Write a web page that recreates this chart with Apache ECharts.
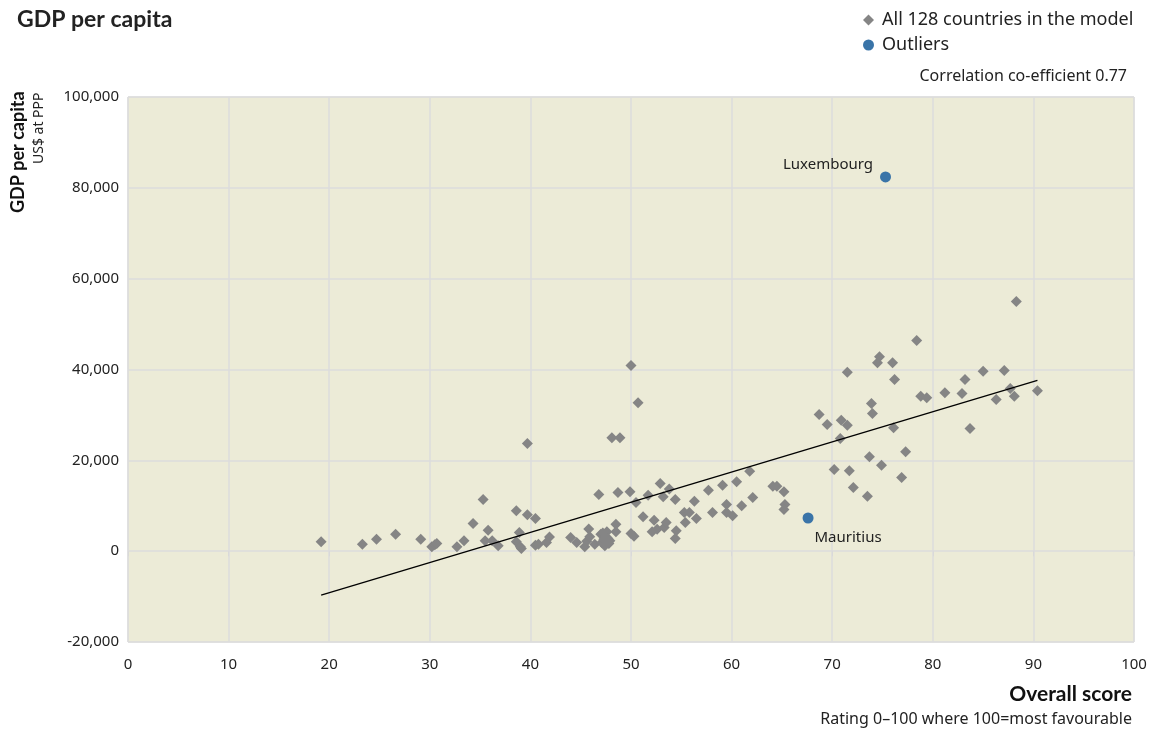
<!DOCTYPE html>
<html>
<head>
<meta charset="utf-8">
<title>GDP per capita</title>
<script src="https://cdn.jsdelivr.net/npm/echarts@6/dist/echarts.min.js"></script>
<style>
  html, body { margin: 0; padding: 0; background: #fff; }
  #main { width: 1166px; height: 734px; }
</style>
</head>
<body>
<div id="main"></div>
<script>
// overall score (x) and GDP per capita, US$ at PPP (y)
const countries = [
  [19.2, 2100], [23.3, 1500], [24.7, 2600], [26.6, 3700], [29.1, 2600],
  [30.2, 1000], [30.5, 1400], [30.7, 1700], [32.7, 1000], [33.4, 2300],
  [34.3, 6100], [35.3, 11400], [35.5, 2300], [35.8, 4600], [36.2, 2300],
  [36.8, 1200], [38.6, 8900], [38.6, 2100], [38.9, 4100], [39.0, 1000],
  [39.1, 600], [39.7, 8000], [39.7, 23700], [40.5, 7200], [40.5, 1300],
  [40.8, 1500], [41.6, 1900], [41.9, 3100], [44.0, 3000], [44.6, 1900],
  [45.4, 1000], [45.6, 2200], [45.8, 4900], [45.9, 3200], [46.4, 1500],
  [46.8, 12500], [47.0, 3700], [47.1, 1900], [47.2, 4000], [47.3, 2600],
  [47.4, 1200], [47.5, 3200], [47.6, 4300], [47.7, 2800], [47.8, 1700],
  [47.9, 2300], [48.1, 25000], [48.5, 5900], [48.5, 4300], [48.7, 12900],
  [48.9, 25000], [49.9, 13100], [50.0, 40900], [50.0, 3900], [50.3, 3300],
  [50.5, 10700], [50.7, 32700], [51.2, 7600], [51.7, 12300], [52.1, 4300],
  [52.3, 6800], [52.6, 4800], [52.9, 14900], [53.2, 12000], [53.3, 5200],
  [53.5, 6300], [53.8, 13700], [54.4, 11400], [54.4, 2800], [54.5, 4500],
  [55.3, 8500], [55.4, 6300], [55.8, 8500], [56.3, 11000], [56.5, 7200],
  [57.7, 13400], [58.1, 8500], [59.1, 14500], [59.5, 10300], [59.5, 8500],
  [60.1, 7800], [60.5, 15300], [61.0, 10000], [61.8, 17600], [62.1, 11800],
  [64.1, 14300], [64.5, 14300], [65.2, 13100], [65.3, 10300], [65.2, 9200],
  [68.7, 30100], [69.5, 27900], [70.2, 18000], [70.8, 24800], [70.9, 28800],
  [71.5, 27700], [71.5, 39400], [71.7, 17700], [72.1, 14000], [73.5, 12100],
  [73.7, 20800], [73.9, 32500], [74.0, 30300], [74.5, 41500], [74.7, 42800],
  [74.9, 18900], [76.0, 41500], [76.1, 27200], [76.2, 37800], [76.9, 16200],
  [77.3, 21900], [78.4, 46400], [78.8, 34100], [79.4, 33800], [81.2, 34900],
  [82.9, 34700], [83.2, 37800], [83.7, 27000], [85.0, 39600], [86.3, 33400],
  [87.1, 39800], [87.7, 35800], [88.1, 34100], [88.3, 55000], [90.4, 35300]
];

const outlierNames = ['Luxembourg', 'Mauritius'];
const outlierValues = [[75.3, 82400], [67.6, 7300]];

// ends of the fitted line
const trendLine = [[19.2, -9700], [90.4, 37600]];

const xTicks = {min: 0, max: 100, interval: 10};
const yTicks = {min: -20000, max: 100000, interval: 20000};

const FONT = 'Noto Sans';
const GREY = '#858585';
const BLUE = '#3a74a8';

const chart = echarts.init(document.getElementById('main'), null, {renderer: 'canvas'});

chart.setOption({
  animation: false,
  textStyle: {fontFamily: FONT, color: '#222'},
  title: {
    text: 'GDP per capita',
    left: 12,
    top: 3,
    textStyle: {fontFamily: 'Lato', fontWeight: 'bold', fontSize: 23, color: '#222'}
  },
  legend: {
    orient: 'vertical',
    left: 858,
    top: 6,
    itemWidth: 11,
    itemHeight: 11,
    itemGap: 7,
    itemStyle: {opacity: 1},
    textStyle: {fontFamily: FONT, fontSize: 18, color: '#222', padding: [0, 0, 0, 3]},
    data: [
      {name: 'All 128 countries in the model', icon: 'diamond'},
      {name: 'Outliers', icon: 'circle'}
    ]
  },
  grid: {
    left: 128,
    right: 32,
    top: 97,
    bottom: 92,
    show: true,
    backgroundColor: '#ecebd7',
    borderColor: '#d9d9d9',
    borderWidth: 1
  },
  xAxis: {
    type: 'value',
    min: xTicks.min,
    max: xTicks.max,
    interval: xTicks.interval,
    axisLine: {show: false},
    axisTick: {show: true, length: 5, lineStyle: {color: '#d9d9d9'}},
    axisLabel: {fontFamily: FONT, fontSize: 15, color: '#222', margin: 15},
    splitLine: {lineStyle: {color: '#dcdcdc', width: 1.5}}
  },
  yAxis: {
    type: 'value',
    min: yTicks.min,
    max: yTicks.max,
    interval: yTicks.interval,
    axisLine: {show: false},
    axisTick: {show: false},
    axisLabel: {
      fontFamily: FONT,
      fontSize: 15,
      color: '#222',
      margin: 9,
      formatter: v => v.toLocaleString('en-US')
    },
    splitLine: {lineStyle: {color: '#dcdcdc', width: 1.5}}
  },
  graphic: [
    {
      type: 'text',
      x: 9, y: 213,
      rotation: Math.PI / 2,
      style: {text: 'GDP per capita', font: 'bold 18px Lato', fill: '#111', textAlign: 'left', textVerticalAlign: 'top'}
    },
    {
      type: 'text',
      x: 32, y: 164,
      rotation: Math.PI / 2,
      style: {text: 'US$ at PPP', font: '14px "Noto Sans"', fill: '#222', textAlign: 'left', textVerticalAlign: 'top'}
    },
    {
      type: 'text',
      right: 39, top: 68,
      style: {text: 'Correlation co-efficient 0.77', font: '16px "Noto Sans"', fill: '#222'}
    },
    {
      type: 'text',
      right: 34, top: 684,
      style: {text: 'Overall score', font: 'bold 21px Lato', fill: '#111'}
    },
    {
      type: 'text',
      right: 34, top: 711,
      style: {text: 'Rating 0\u2013100 where 100=most favourable', font: '16px "Noto Sans"', fill: '#222'}
    }
  ],
  series: [
    {
      name: 'trend',
      type: 'line',
      data: trendLine,
      symbol: 'none',
      silent: true,
      lineStyle: {color: '#000', width: 1.3},
      z: 3
    },
    {
      name: 'All 128 countries in the model',
      type: 'scatter',
      symbol: 'diamond',
      symbolSize: 11,
      itemStyle: {color: GREY, opacity: 1},
      data: countries,
      z: 2
    },
    {
      name: 'Outliers',
      type: 'scatter',
      symbol: 'circle',
      symbolSize: 11,
      itemStyle: {color: BLUE, opacity: 1},
      data: outlierValues.map((v, i) => ({
        name: outlierNames[i],
        value: v,
        label: i === 0
          ? {show: true, position: 'left', offset: [-2, -12]}
          : {show: true, position: 'bottom', offset: [40, 2]}
      })),
      label: {
        formatter: '{b}',
        fontFamily: FONT,
        fontSize: 15,
        color: '#222'
      },
      z: 4
    }
  ]
});
</script>
</body>
</html>
